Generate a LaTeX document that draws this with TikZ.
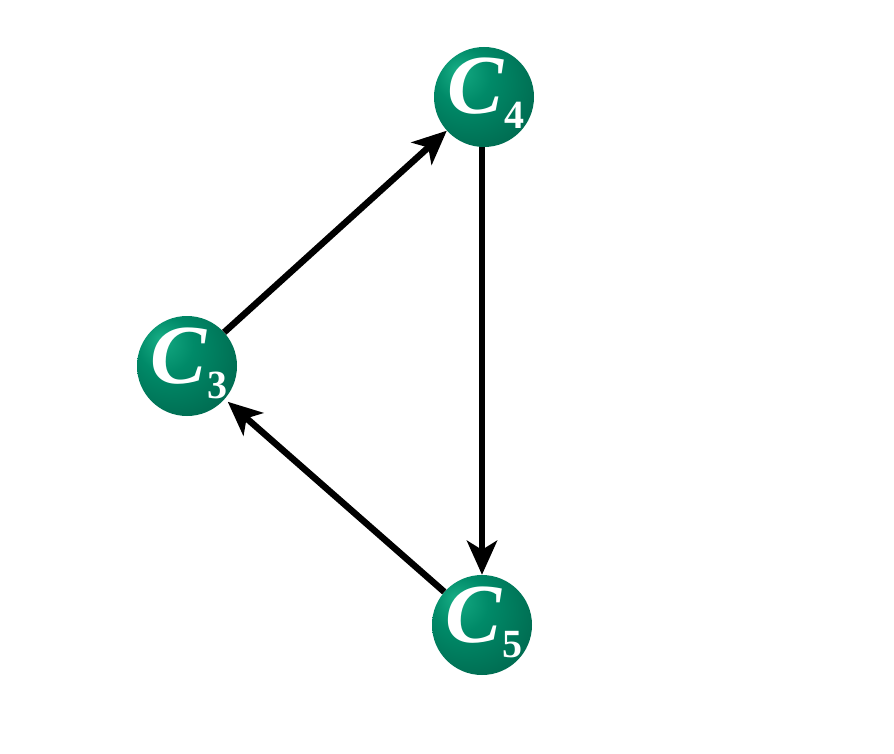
\documentclass[tikz,border=0pt]{standalone}
\usepackage{fontspec}
\setmainfont{Liberation Serif}
\usetikzlibrary{arrows.meta, positioning}
\definecolor{balllight}{RGB}{22, 172, 132}
\definecolor{ballmid}  {RGB}{0, 138, 104}
\definecolor{balldark} {RGB}{0, 96, 72}
\pgfdeclareradialshading{cycleball}{\pgfpoint{-14bp}{14bp}}{%
	color(0bp)=(balllight); color(14bp)=(ballmid);
	color(42bp)=(balldark); color(60bp)=(balldark)}
\newcommand{\cname}[1]{%
	\makebox[0pt]{\hspace*{4pt}\raisebox{-17pt}[0pt][0pt]{%
	{\fontsize{84}{84}\selectfont\bfseries\itshape C}\kern1pt%
	\raisebox{-15pt}{\fontsize{40}{40}\selectfont\bfseries\upshape #1}}}}
\tikzset{
	cball/.style={
		circle, minimum size=100pt, inner sep=0pt,
		shading=cycleball, text=white
	},
	arrow/.style={
		-{Stealth[length=34pt, width=30pt, inset=9pt]},
		line width=6.5pt, color=black
	}
}
\begin{document}
\begin{tikzpicture}[x=1pt, y=-1pt]
	\useasboundingbox (0,0) rectangle (894,754);
	
	%% ═══════════════════════════════
	%%  NODES
	%% ═══════════════════════════════
	\node[cball] (c4) at (484,97)  {\cname{4}};
	\node[cball] (c3) at (187,366) {\cname{3}};
	\node[cball] (c5) at (482,625) {\cname{5}};
	
	%% ═══════════════════════════════
	%%  ARROWS
	%% ═══════════════════════════════
	\draw[arrow] (c3) -- (c4);
	\draw[arrow] (c4.south -| c5.north) -- (c5.north);
	\draw[arrow, shorten >=4pt] (c5) -- (c3);
\end{tikzpicture}
\end{document}
